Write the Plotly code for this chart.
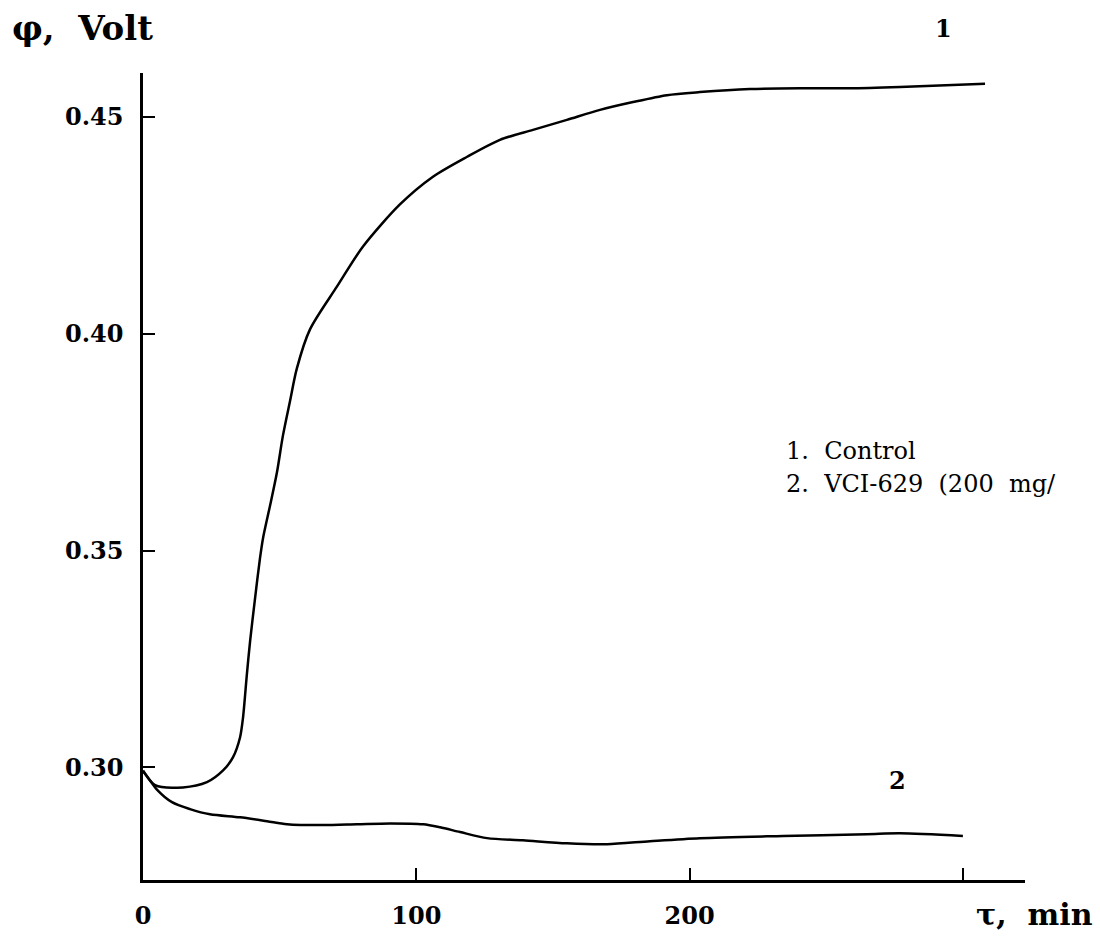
import plotly.graph_objects as go

# Curve 1: Control
t1 = [0, 4.4, 14.6, 23.4, 29.3, 32.9, 35.5, 36.6, 38.0, 39.2, 41.0, 42.8, 43.9, 46.5, 49.0,
      51.2, 53.8, 56.3, 61.1, 71.0, 80.5, 94.0, 106.1, 118.6, 130.6, 142.7, 155.1, 167.2,
      179.3, 191.7, 203.8, 222.1, 240.4, 258.7, 277.0, 308.1]
phi1 = [0.2993, 0.2959, 0.2954, 0.2966, 0.2993, 0.3023, 0.3069, 0.3115, 0.3214, 0.3292,
        0.3390, 0.3482, 0.3528, 0.3604, 0.3680, 0.3765, 0.3845, 0.3920, 0.4010, 0.4109,
        0.4201, 0.4298, 0.4362, 0.4408, 0.4447, 0.4470, 0.4493, 0.4516, 0.4534, 0.4550,
        0.4557, 0.4564, 0.4566, 0.4566, 0.4569, 0.4576]

# Curve 2: VCI-629
t2 = [0, 1.8, 5.1, 10.6, 17.2, 24.5, 35.5, 45.4, 52.7, 65.9, 78.3, 90.4, 102.5, 108.7,
      116.0, 125.9, 139.0, 155.1, 169.8, 185.5, 203.8, 234.2, 264.9, 277.0, 300.0]
phi2 = [0.2991, 0.2977, 0.2949, 0.2920, 0.2904, 0.2892, 0.2885, 0.2876, 0.2869, 0.2867,
        0.2869, 0.2871, 0.2869, 0.2862, 0.2851, 0.2837, 0.2832, 0.2825, 0.2823, 0.2830,
        0.2837, 0.2842, 0.2846, 0.2848, 0.2842]

x_ticks = [0, 100, 200, 300]
x_ticktext = ["0", "100", "200", ""]
y_ticks = [0.30, 0.35, 0.40, 0.45]
y_ticktext = ["0.30", "0.35", "0.40", "0.45"]

W, H = 1100, 942
L, R, T, B = 143, 75, 73, 59
PW, PH = W - L - R, H - T - B

def px(xp):
    return (xp - L) / PW

def py(yp):
    return (H - B - yp) / PH

FONT = "DejaVu Serif"

fig = go.Figure()
fig.add_trace(go.Scatter(x=t1, y=phi1, mode="lines", line=dict(color="black", width=2.5, shape="spline", smoothing=0.8),
                         showlegend=False, hoverinfo="skip"))
fig.add_trace(go.Scatter(x=t2, y=phi2, mode="lines", line=dict(color="black", width=2.5, shape="spline", smoothing=0.8),
                         showlegend=False, hoverinfo="skip"))

fig.update_layout(
    width=W, height=H,
    margin=dict(l=L, r=R, t=T, b=B),
    paper_bgcolor="white", plot_bgcolor="white",
    font=dict(family=FONT, color="black"),
    xaxis=dict(range=[0, PW / 2.733], showgrid=False, zeroline=False,
               showline=True, linecolor="black", linewidth=2.5,
               ticks="inside", ticklen=12, tickwidth=2, tickcolor="black",
               tickvals=x_ticks, ticktext=x_ticktext, ticklabelstandoff=12,
               tickfont=dict(family=FONT, size=24, weight="bold", color="black")),
    yaxis=dict(range=[0.30 - 113 / 4354, 0.45 + 44 / 4354], showgrid=False, zeroline=False,
               showline=True, linecolor="black", linewidth=2.5,
               ticks="inside", ticklen=12, tickwidth=2, tickcolor="black",
               tickvals=y_ticks, ticktext=y_ticktext, ticklabelstandoff=12,
               tickfont=dict(family=FONT, size=24, weight="bold", color="black")),
)

ann = [
    dict(text="φ,  Volt", x=px(10), y=py(28), xanchor="left", yanchor="middle",
         font=dict(family=FONT, size=34, weight="bold")),
    dict(text="τ,  min", x=px(1095), y=py(918), xanchor="right", yanchor="middle",
         font=dict(family=FONT, size=30, weight="bold")),
    dict(text="1", x=px(943), y=py(28), xanchor="center", yanchor="middle",
         font=dict(family=FONT, size=24, weight="bold")),
    dict(text="2", x=px(897), y=py(783), xanchor="center", yanchor="middle",
         font=dict(family=FONT, size=24, weight="bold")),
    dict(text="1.  Control", x=px(784), y=py(452), xanchor="left", yanchor="middle",
         font=dict(family=FONT, size=24)),
    dict(text="2.  VCI-629  (200  mg/", x=px(784), y=py(486), xanchor="left", yanchor="middle",
         font=dict(family=FONT, size=24)),
]
for a in ann:
    a.update(xref="paper", yref="paper", showarrow=False)
    fig.add_annotation(**a)

fig.write_html("out.html")
